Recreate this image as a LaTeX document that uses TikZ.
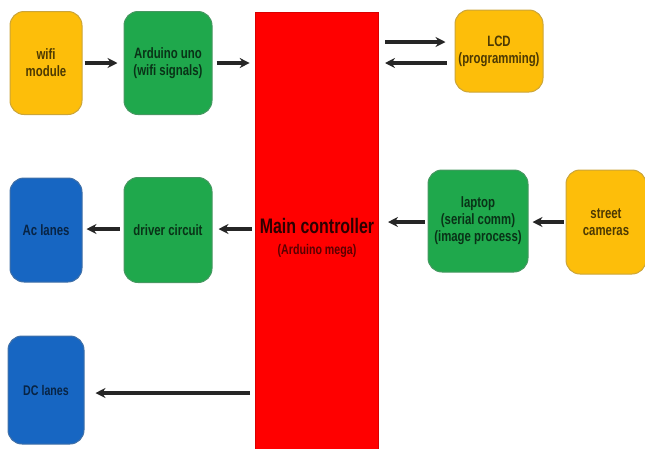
\documentclass[tikz,border=0pt]{standalone}
\usepackage{fontspec}
\setmainfont{Liberation Sans}[FakeStretch=0.76]
\usetikzlibrary{arrows.meta}
\definecolor{ylw}{HTML}{FDBE0A}
\definecolor{grn}{HTML}{1FA84C}
\definecolor{blu}{HTML}{1766C2}
\definecolor{rd}{HTML}{FF0000}
\tikzset{
  box/.style={rounded corners=14pt, draw=#1!60!gray, line width=1pt, align=center, font=\fontsize{15}{17}\selectfont\bfseries, inner sep=2pt},
  ybox/.style={box=ylw, fill=ylw, text=black!70!ylw},
  gbox/.style={box=grn, fill=grn, text=black!70!grn},
  bbox/.style={box=blu, fill=blu, text=black!65!blu},
  arr/.style={-{Stealth[length=10pt,width=10pt]}, line width=3.2pt, black!85}
}
\begin{document}
\begin{tikzpicture}[x=1pt,y=-1pt]
\useasboundingbox (0,0) rectangle (645,448);
\node[ybox, minimum width=72pt, minimum height=103pt] (wifi) at (46,63) {wifi\\module};
\node[gbox, minimum width=88pt, minimum height=103pt] (uno) at (168,63) {Arduino uno\\(wifi signals)};
\node[fill=rd, draw=rd!85!black, line width=0.6pt, minimum width=123pt, minimum height=437pt, inner sep=0pt] (main) at (316.5,230.5) {};
\node[text=black!82!rd, inner sep=0pt] (mt) at (317,226) {\fontsize{21}{23}\selectfont\bfseries Main controller};
\node[text=black!65!rd, inner sep=0pt] (ms) at (317,251) {\fontsize{14}{16}\selectfont\bfseries (Arduino mega)};
\node[ybox, minimum width=88pt, minimum height=82pt] (lcd) at (499,51) {LCD\\(programming)};
\node[bbox, minimum width=72pt, minimum height=104pt] (ac) at (46,230) {Ac lanes};
\node[gbox, minimum width=88pt, minimum height=105pt] (drv) at (168,230) {driver circuit};
\node[gbox, minimum width=100pt, minimum height=102pt] (lap) at (478,221) {laptop\\(serial comm)\\(image process)};
\node[ybox, minimum width=80pt, minimum height=104pt] (cam) at (606,222) {street\\cameras};
\node[bbox, minimum width=76pt, minimum height=108pt, font=\fontsize{14}{16}\selectfont\bfseries] (dc) at (46,390) {DC lanes};
\coordinate (m1) at (385,42);
\coordinate (m2) at (385,63);
\coordinate (m3) at (388,222);
\coordinate (m4) at (252,229);
\coordinate (m5) at (250,393);
\draw[arr] ([xshift=2pt]wifi.east) -- ([xshift=-6pt]uno.west);
\draw[arr] ([xshift=4pt]uno.east) -- ([xshift=-5pt]main.west |- uno.east);
\draw[arr] (m1) -- ([xshift=-9pt]lcd.west |- m1);
\draw[arr] ([xshift=-8pt]lcd.west |- m2) -- (m2);
\draw[arr] ([xshift=-2pt]cam.west |- m3) -- ([xshift=4pt]lap.east |- m3);
\draw[arr] ([xshift=-3pt]lap.west |- m3) -- (m3);
\draw[arr] (m4) -- ([xshift=6pt]drv.east |- m4);
\draw[arr] ([xshift=-4pt]drv.west |- m4) -- ([xshift=4pt]ac.east |- m4);
\draw[arr] (m5) -- ([xshift=11pt]dc.east |- m5);
\end{tikzpicture}
\end{document}
